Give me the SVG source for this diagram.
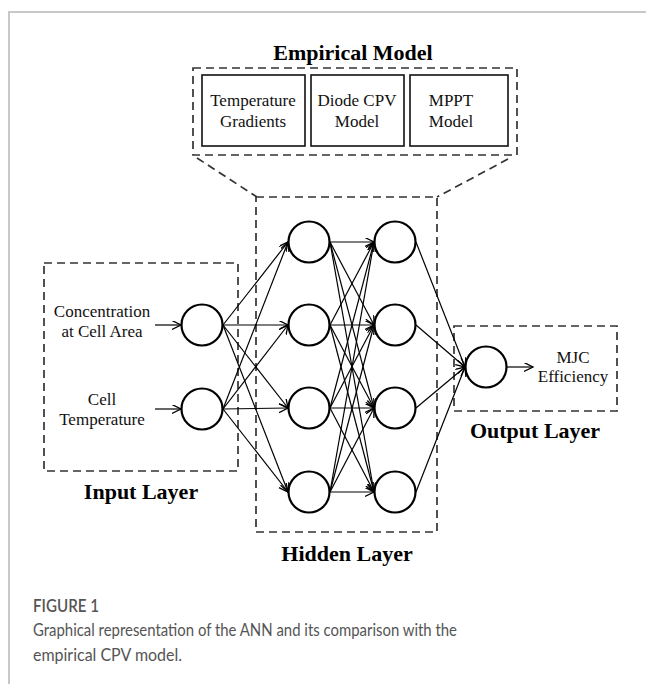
<svg xmlns="http://www.w3.org/2000/svg" width="646" height="684" viewBox="0 0 646 684">
<defs>
<marker id="arr" markerUnits="userSpaceOnUse" markerWidth="12" markerHeight="12" refX="9" refY="4.5" orient="auto">
<path d="M0,0 L9,4.5 L0,9" fill="none" stroke="#000" stroke-width="1.3"/>
</marker>
<style>
.frame{stroke:#c8c8c8;stroke-width:2;fill:none}
.dash{fill:none;stroke:#333;stroke-width:1.7;stroke-dasharray:8 5}
.box{fill:#fff;stroke:#111;stroke-width:1.6}
.node{fill:#fff;stroke:#000;stroke-width:2.2}
.edge{stroke:#000;stroke-width:1.2;fill:none;marker-end:url(#arr)}
.t{font-family:"Liberation Serif","Times New Roman",serif;font-size:17px;fill:#111;text-anchor:middle}
.b{font-family:"Liberation Serif","Times New Roman",serif;font-size:22px;font-weight:bold;fill:#000;text-anchor:middle}
.cap{font-family:Lato,"Open Sans",sans-serif;fill:#555}
</style>
</defs>
<rect width="646" height="684" fill="#fff"/>
<path class="frame" d="M9,684 L9,12 L646,12"/>

<g id="empirical-model">
<text class="b" x="353" y="60">Empirical Model</text>
<rect class="dash" x="193" y="68" width="324" height="87"/>
<g id="temperature-gradients">
<rect class="box" x="202" y="75" width="103" height="71"/>
<text class="t" x="253" y="106">Temperature</text>
<text class="t" x="253" y="127">Gradients</text>
</g>
<g id="diode-cpv-model">
<rect class="box" x="311" y="75" width="93" height="71"/>
<text class="t" x="357" y="106">Diode CPV</text>
<text class="t" x="357" y="127">Model</text>
</g>
<g id="mppt-model">
<rect class="box" x="410" y="75" width="98" height="71"/>
<text class="t" x="451" y="106">MPPT</text>
<text class="t" x="451" y="127">Model</text>
</g>
</g>

<g id="input-layer">
<rect class="dash" x="44" y="263" width="194" height="208"/>
<text class="b" x="141" y="499">Input Layer</text>
<text class="t" x="102" y="317">Concentration</text>
<text class="t" x="102" y="337">at Cell Area</text>
<text class="t" x="102" y="405">Cell</text>
<text class="t" x="102" y="425">Temperature</text>
</g>

<g id="hidden-layer">
<rect class="dash" x="256" y="197" width="181" height="335"/>
<text class="b" x="347" y="561">Hidden Layer</text>
</g>

<g id="output-layer">
<rect class="dash" x="454" y="326" width="163" height="85"/>
<text class="b" x="535" y="438">Output Layer</text>
<text class="t" x="573" y="363">MJC</text>
<text class="t" x="573" y="382">Efficiency</text>
</g>

<g id="connectors">
<path class="dash" d="M197,158 L257,197 M508,159 L437,197"/>
<path class="edge" d="M155,325 L181,325"/>
<path class="edge" d="M155,409 L181,409"/>
<path class="edge" d="M507,367 L533,367"/>
<path class="edge" d="M223,325 L288,242"/>
<path class="edge" d="M223,325 L288,325"/>
<path class="edge" d="M223,325 L288,408"/>
<path class="edge" d="M223,325 L288,492"/>
<path class="edge" d="M223,409 L288,242"/>
<path class="edge" d="M223,409 L288,325"/>
<path class="edge" d="M223,409 L288,408"/>
<path class="edge" d="M223,409 L288,492"/>
<path class="edge" d="M330,242 L374,242"/>
<path class="edge" d="M330,242 L374,325"/>
<path class="edge" d="M330,242 L374,408"/>
<path class="edge" d="M330,242 L374,492"/>
<path class="edge" d="M330,325 L374,242"/>
<path class="edge" d="M330,325 L374,325"/>
<path class="edge" d="M330,325 L374,408"/>
<path class="edge" d="M330,325 L374,492"/>
<path class="edge" d="M330,408 L374,242"/>
<path class="edge" d="M330,408 L374,325"/>
<path class="edge" d="M330,408 L374,408"/>
<path class="edge" d="M330,408 L374,492"/>
<path class="edge" d="M330,492 L374,242"/>
<path class="edge" d="M330,492 L374,325"/>
<path class="edge" d="M330,492 L374,408"/>
<path class="edge" d="M330,492 L374,492"/>
<path class="edge" d="M416,242 L465,367"/>
<path class="edge" d="M416,325 L465,367"/>
<path class="edge" d="M416,408 L465,367"/>
<path class="edge" d="M416,492 L465,367"/>
</g>

<g id="in1"><circle class="node" cx="202" cy="325" r="20.5"/></g>
<g id="in2"><circle class="node" cx="202" cy="409" r="20.5"/></g>
<g id="h1-1"><circle class="node" cx="309" cy="242" r="20.5"/></g>
<g id="h1-2"><circle class="node" cx="309" cy="325" r="20.5"/></g>
<g id="h1-3"><circle class="node" cx="309" cy="408" r="20.5"/></g>
<g id="h1-4"><circle class="node" cx="309" cy="492" r="20.5"/></g>
<g id="h2-1"><circle class="node" cx="395" cy="242" r="20.5"/></g>
<g id="h2-2"><circle class="node" cx="395" cy="325" r="20.5"/></g>
<g id="h2-3"><circle class="node" cx="395" cy="408" r="20.5"/></g>
<g id="h2-4"><circle class="node" cx="395" cy="492" r="20.5"/></g>
<g id="out"><circle class="node" cx="486" cy="367" r="20.5"/></g>

<g id="caption">
<text class="cap" x="33" y="612" font-size="17.5" font-weight="600" fill="#666" textLength="66" lengthAdjust="spacingAndGlyphs">FIGURE 1</text>
<text class="cap" x="33" y="636" font-size="17.5" textLength="424" lengthAdjust="spacingAndGlyphs">Graphical representation of the ANN and its comparison with the</text>
<text class="cap" x="33" y="661" font-size="17.5" textLength="149" lengthAdjust="spacingAndGlyphs">empirical CPV model.</text>
</g>
</svg>
